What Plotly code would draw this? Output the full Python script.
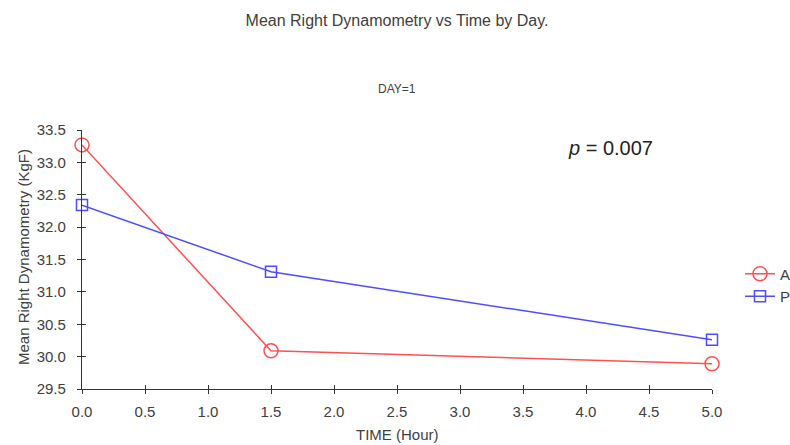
import plotly.graph_objects as go

time_hours = [0.0, 1.5, 5.0]
group_a = [33.27, 30.09, 29.89]
group_p = [32.34, 31.31, 30.26]
x_ticks = [0.0, 0.5, 1.0, 1.5, 2.0, 2.5, 3.0, 3.5, 4.0, 4.5, 5.0]
y_ticks = [29.5, 30.0, 30.5, 31.0, 31.5, 32.0, 32.5, 33.0, 33.5]

FONT = "Liberation Sans, Arial, sans-serif"
TXT = "#404040"
W, H = 790, 445
L, R, T, B = 82, 78, 130, 56
PW, PH = W - L - R, H - T - B


def px_x(px):
    return (px - L) / PW


def px_y(py):
    return (H - B - py) / PH


fig = go.Figure()
fig.add_trace(go.Scatter(
    x=time_hours, y=group_a, name="A", mode="lines+markers",
    line=dict(color="#ff5050", width=1.5),
    marker=dict(symbol="circle-open", size=14, color="#ff5050", line=dict(width=1.5)),
    cliponaxis=False))
fig.add_trace(go.Scatter(
    x=time_hours, y=group_p, name="P", mode="lines+markers",
    line=dict(color="#4d4dff", width=1.5),
    marker=dict(symbol="square-open", size=11, color="#4d4dff", line=dict(width=1.5)),
    cliponaxis=False))

axis_common = dict(showgrid=False, zeroline=False, showline=True, linecolor="#333333",
                   linewidth=1.3, ticks="outside", ticklen=4, tickwidth=1.3, tickcolor="#333333",
                   tickfont=dict(family=FONT, size=15, color=TXT), automargin=False)

fig.update_layout(
    width=W, height=H,
    margin=dict(l=L, r=R, t=T, b=B, autoexpand=False),
    paper_bgcolor="white", plot_bgcolor="white",
    font=dict(family=FONT, color=TXT),
    title=dict(text="Mean Right Dynamometry vs Time by Day.", x=0.5, xref="paper",
               y=1 - 20 / H, yanchor="middle", font=dict(family=FONT, size=16, color=TXT)),
    xaxis=dict(range=[0, 5], tickvals=x_ticks, ticktext=[f"{v:.1f}" for v in x_ticks],
               ticklabelstandoff=5, **axis_common),
    yaxis=dict(range=[29.5, 33.5], tickvals=y_ticks, ticktext=[f"{v:.1f}" for v in y_ticks],
               ticklabelstandoff=8, **axis_common),
    xaxis2=dict(range=[0, 5], overlaying="x", tickvals=x_ticks, showticklabels=False,
                ticks="inside", ticklen=4, tickwidth=1.3, tickcolor="#333333",
                showgrid=False, zeroline=False, showline=False, anchor="y", automargin=False),
    yaxis2=dict(range=[29.5, 33.5], overlaying="y", tickvals=y_ticks, showticklabels=False,
                ticks="inside", ticklen=4, tickwidth=1.3, tickcolor="#333333",
                showgrid=False, zeroline=False, showline=False, anchor="x", automargin=False),
    legend=dict(x=px_x(740), xanchor="left", y=px_y(285), yanchor="middle", bgcolor="rgba(0,0,0,0)",
                font=dict(family=FONT, size=15, color=TXT), itemwidth=30, tracegroupgap=2),
    showlegend=True,
)

# invisible trace to activate the secondary (inside-tick) axes
fig.add_trace(go.Scatter(x=[None], y=[None], xaxis="x2", yaxis="y2", showlegend=False,
                         hoverinfo="skip"))

fig.add_annotation(text="DAY=1", xref="paper", yref="paper", x=0.5, y=px_y(89),
                   showarrow=False, yanchor="middle", font=dict(family=FONT, size=12, color=TXT))
fig.add_annotation(text="TIME (Hour)", xref="paper", yref="paper", x=0.5, y=px_y(434),
                   showarrow=False, yanchor="middle", font=dict(family=FONT, size=15, color=TXT))
fig.add_annotation(text="Mean Right Dynamometry (KgF)", xref="paper", yref="paper",
                   x=px_x(23), y=px_y(257), textangle=-90, showarrow=False,
                   xanchor="center", yanchor="middle", font=dict(family=FONT, size=15, color=TXT))
fig.add_annotation(text="<i>p</i> = 0.007", xref="paper", yref="paper",
                   x=px_x(610), y=px_y(148), showarrow=False,
                   xanchor="center", yanchor="middle",
                   font=dict(family=FONT, size=20, color="#222222"))

fig.write_html("out.html")
